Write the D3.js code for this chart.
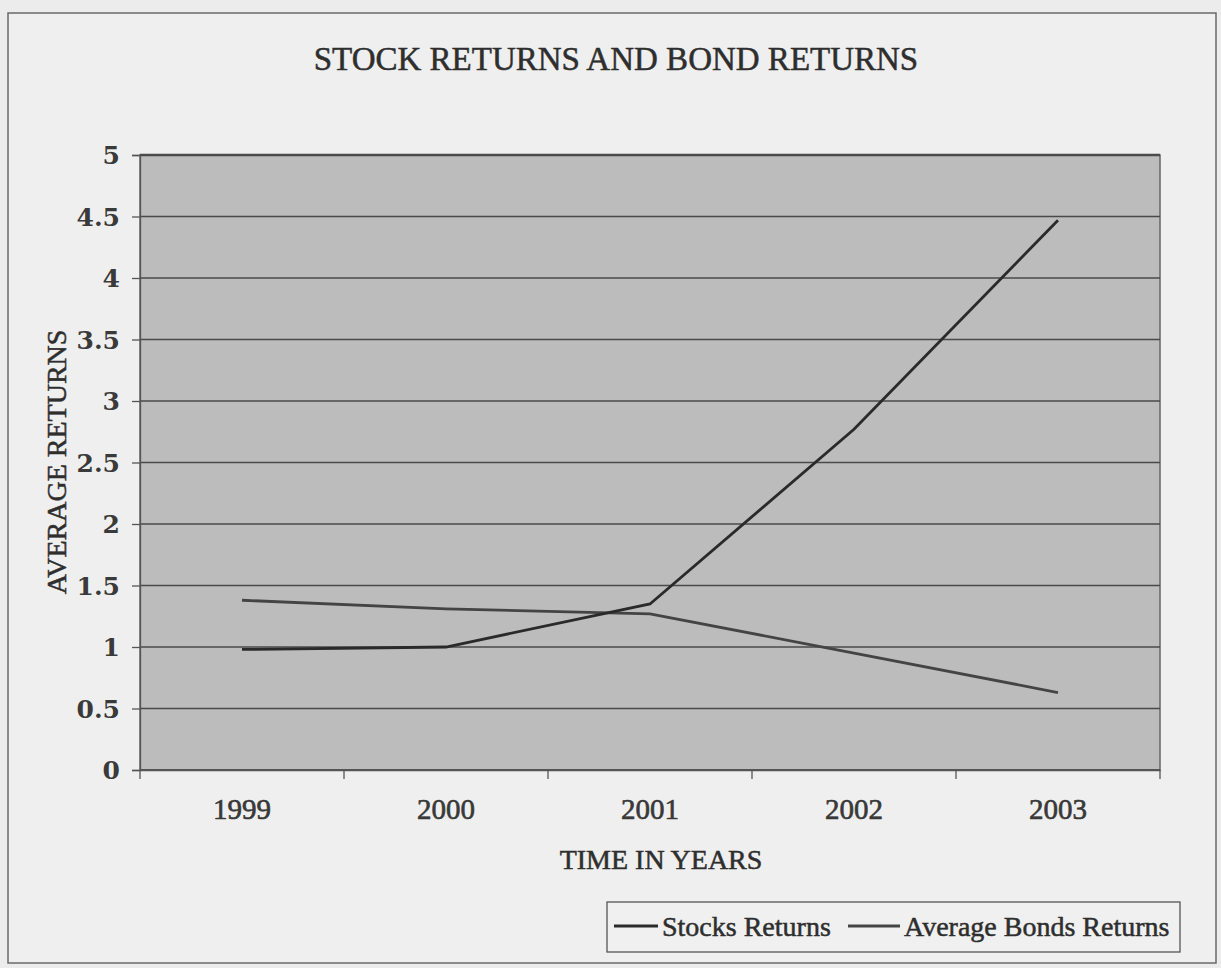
<!DOCTYPE html>
<meta charset="utf-8">
<style>
    * { margin: 0px; }
    body { background: #ececec; }
    svg text { font-family: "Liberation Serif", "DejaVu Serif", serif; fill: #2e2e2e; stroke: #2e2e2e; stroke-width: 0.5px; }
    .tick text { font-family: "DejaVu Serif", serif; font-size: 25px; font-weight: bold; stroke-width: 0px; fill: #3a3a3a; }
</style>
<svg width="1221" height="968"></svg>
<script src="https://d3js.org/d3.v7.min.js"></script>
<script>
    // values
    var years = ["1999", "2000", "2001", "2002", "2003"];
    var stocks = [0.98, 1.0, 1.35, 2.77, 4.47];
    var bonds = [1.38, 1.31, 1.27, 0.95, 0.63];
    var yTicks = [0, 0.5, 1, 1.5, 2, 2.5, 3, 3.5, 4, 4.5, 5];
    var seriesNames = ["Stocks Returns", "Average Bonds Returns"];

    var svg = d3.select("svg");
    var margin = {left: 140, right: 61, top: 155, bottom: 198};
    var width = 1221 - margin.left - margin.right,
        height = 968 - margin.top - margin.bottom;

    // outer frame of the chart object
    svg.append("rect")
        .attr("x", 8).attr("y", 13)
        .attr("width", 1208).attr("height", 950)
        .attr("fill", "#efefef")
        .attr("stroke", "#6a6a6a")
        .attr("stroke-width", 1.5);

    var x = d3.scaleBand().domain(years).range([0, width]);
    var y = d3.scaleLinear().domain([0, 5]).range([height, 0]);

    var g = svg.append("g").attr("transform", "translate(" + margin.left + "," + margin.top + ")");

    g.append("rect")
        .attr("width", width).attr("height", height)
        .attr("fill", "#bcbcbc")
        .attr("stroke", "#666")
        .attr("stroke-width", 1.5);

    // gridlines
    g.append("g")
        .selectAll("line")
        .data(yTicks)
        .enter().append("line")
        .attr("x1", 0).attr("x2", width)
        .attr("y1", function(d) { return y(d); })
        .attr("y2", function(d) { return y(d); })
        .attr("stroke", "#4a4a4a")
        .attr("stroke-width", function(d) { return d === 5 ? 2.5 : 1.3; });

    // y axis
    var yAxis = g.append("g")
        .call(d3.axisLeft(y).tickValues(yTicks).tickFormat(d3.format("")).tickSize(8).tickPadding(12));
    yAxis.selectAll("line, path").attr("stroke", "#555").attr("stroke-width", 1.3);
    yAxis.selectAll("text").attr("dy", "0.35em");

    // x axis: ticks between categories like the original
    var xAxis = g.append("g")
        .attr("transform", "translate(0," + height + ")")
        .call(d3.axisBottom(x).tickSize(0).tickPadding(28));
    xAxis.select(".domain").attr("stroke", "#555").attr("stroke-width", 1.5);
    xAxis.selectAll("text")
        .style("font-family", "Liberation Serif, serif")
        .style("font-size", "29px").style("font-weight", "normal")
        .style("stroke", "#333").style("stroke-width", "0.6px");
    xAxis.selectAll(".sep")
        .data(years.concat(["end"]))
        .enter().append("line")
        .attr("class", "sep")
        .attr("x1", function(d, i) { return i * x.step(); })
        .attr("x2", function(d, i) { return i * x.step(); })
        .attr("y1", 0).attr("y2", 9)
        .attr("stroke", "#555").attr("stroke-width", 1.3);

    var line = d3.line()
        .x(function(d, i) { return x(years[i]) + x.bandwidth() / 2; })
        .y(function(d) { return y(d); });

    g.append("path").datum(bonds)
        .attr("d", line).attr("fill", "none")
        .attr("stroke", "#444").attr("stroke-width", 2.8);
    g.append("path").datum(stocks)
        .attr("d", line).attr("fill", "none")
        .attr("stroke", "#2a2a2a").attr("stroke-width", 2.8);

    // titles
    svg.append("text")
        .attr("x", 616).attr("y", 70)
        .attr("text-anchor", "middle")
        .style("font-size", "33px")
        .text("STOCK RETURNS AND BOND RETURNS");

    svg.append("text")
        .attr("transform", "translate(66,462) rotate(-90)")
        .attr("text-anchor", "middle")
        .style("font-size", "28px")
        .text("AVERAGE RETURNS");

    svg.append("text")
        .attr("x", 661).attr("y", 869)
        .attr("text-anchor", "middle")
        .style("font-size", "28px")
        .text("TIME IN YEARS");

    // legend
    var legend = svg.append("g");
    legend.append("rect")
        .attr("x", 607).attr("y", 902)
        .attr("width", 573).attr("height", 50)
        .attr("fill", "#f0f0f0")
        .attr("stroke", "#555").attr("stroke-width", 1.3);
    var legendX = [614, 848];
    var legendW = [44, 52];
    seriesNames.forEach(function(name, i) {
        legend.append("line")
            .attr("x1", legendX[i]).attr("x2", legendX[i] + legendW[i])
            .attr("y1", 926).attr("y2", 926)
            .attr("stroke", i === 0 ? "#2a2a2a" : "#444").attr("stroke-width", 2.8);
        legend.append("text")
            .attr("x", legendX[i] + legendW[i] + 4).attr("y", 936)
            .style("font-size", "28px")
            .text(name);
    });
</script>
